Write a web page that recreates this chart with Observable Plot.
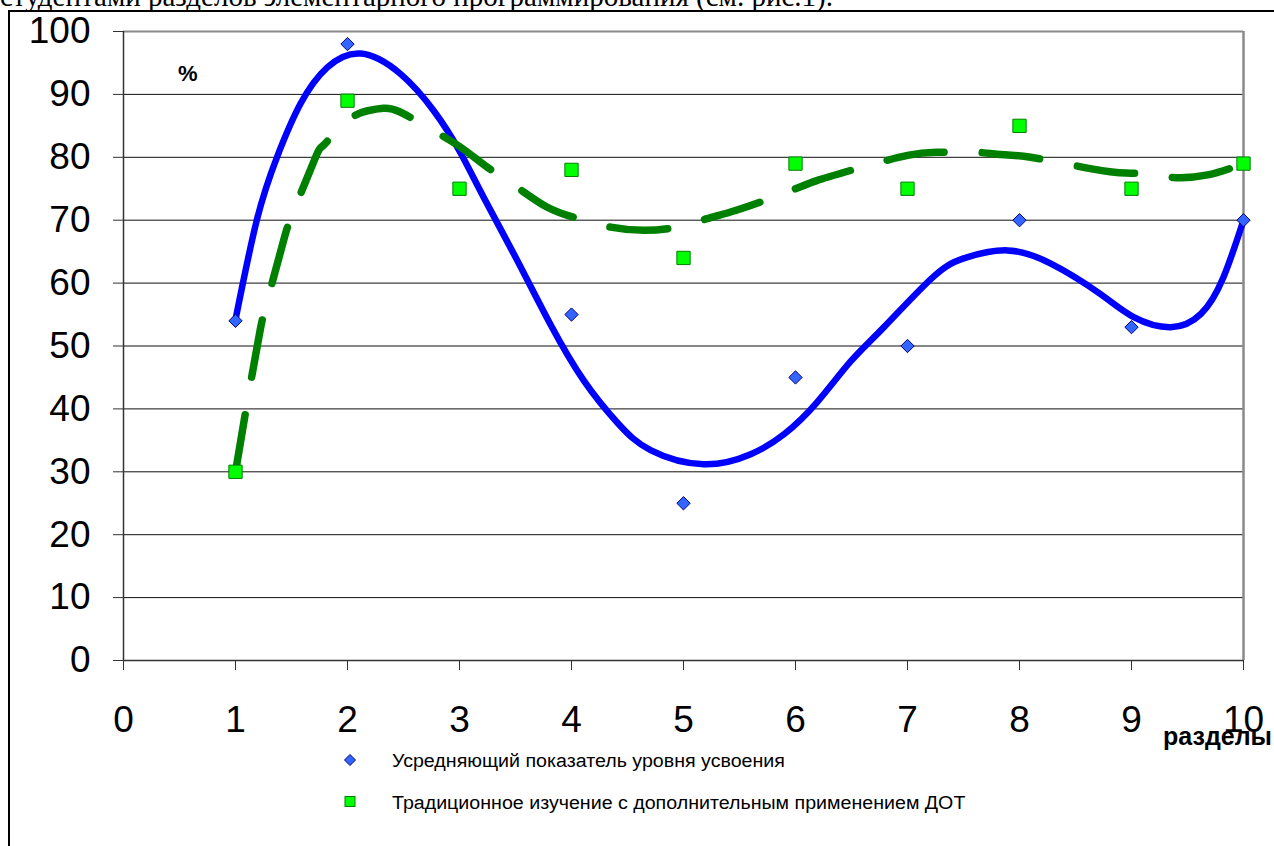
<!DOCTYPE html>
<html>
<head>
<meta charset="utf-8">
<script src="https://cdn.jsdelivr.net/npm/d3@7"></script>
<script src="https://cdn.jsdelivr.net/npm/@observablehq/plot@0.6"></script>
<style>
  html, body { margin: 0; padding: 0; background: #fff; }
  #wrap { position: relative; width: 1274px; height: 846px; overflow: hidden; font-family: 'Liberation Sans', Arial, sans-serif; }
  #frame { position: absolute; left: 8px; top: 10px; width: 1300px; height: 900px; border-left: 2px solid #000; border-top: 2px solid #000; }
  #toptext { position: absolute; left: 0px; top: -18px; font-family: 'Liberation Serif', 'Times New Roman', serif; font-size: 29px; line-height: 1; white-space: nowrap; color: #000; }
  #chart { position: absolute; left: 0; top: 0; }
  .lbl { position: absolute; line-height: 1; white-space: nowrap; color: #000; }
  .leg { position: absolute; line-height: 1; white-space: nowrap; font-size: 18px; color: #000; transform: scaleX(1.09); transform-origin: 0 0; }
</style>
</head>
<body>
<div id="wrap">
  <div id="frame"></div>
  <div id="toptext">студентами разделов элементарного программирования (см. рис.1).</div>
  <div id="chart"></div>
  <div class="lbl" style="left:178px; top:63px; font-size:22px; font-weight:bold;">%</div>
  <div class="lbl" style="left:1163px; top:724px; font-size:25px; font-weight:bold;">разделы</div>
  <svg style="position:absolute; left:340px; top:750px;" width="22" height="62">
    <path d="M10,4.5 L15.5,10 L10,15.5 L4.5,10 Z" fill="#3366FF" stroke="#000080" stroke-width="1"/>
    <rect x="5" y="46.5" width="10" height="10" fill="#00FF00" stroke="#008000" stroke-width="1"/>
  </svg>
  <div class="leg" id="leg1" style="left:392px; top:752px;">Усредняющий показатель уровня усвоения</div>
  <div class="leg" id="leg2" style="left:392px; top:794px;">Традиционное изучение с дополнительным применением ДОТ</div>
</div>
<script>
// ---- data ----
const razdely = [1, 2, 3, 4, 5, 6, 7, 8, 9, 10];
const usrednyayushchiy = [54, 98, null, 55, 25, 45, 50, 70, 53, 70];
const traditsionnoe = [30, 89, 75, 78, 64, 79, 75, 85, 75, 79];

// trend lines
const trendBlueX = [1.0, 1.19, 1.37, 1.58, 1.82, 2.12, 2.47, 2.77, 3.0, 3.22, 3.51, 3.81, 4.11, 4.41, 4.71, 5.18, 5.6, 5.9, 6.19, 6.49, 6.79, 7.23, 7.53, 7.89, 8.28, 8.72, 9.02, 9.35, 9.62, 9.82, 10.0];
const trendBlueY = [54.2, 70, 80, 88.5, 94.3, 96.5, 93.3, 87.4, 81, 73.5, 63.8, 53.5, 44.5, 37.8, 33.4, 31.2, 32.8, 36, 41, 47.5, 53, 61, 64.1, 65.2, 63.1, 58.3, 54.6, 53, 55.1, 60.9, 70];
const trendGreenX = [1.0, 1.09, 1.22, 1.30, 1.43, 1.52, 1.71, 1.79, 2.0, 2.18, 2.32, 2.47, 2.75, 3.01, 3.25, 3.5, 3.78, 4.05, 4.35, 4.65, 4.94, 5.2, 5.42, 5.69, 6.0, 6.19, 6.49, 7.0, 7.29, 7.55, 7.8, 8.1, 8.57, 8.87, 9.15, 9.37, 9.68, 10.0];
const trendGreenY = [30, 39.5, 52.5, 58.3, 66.8, 71.5, 79.8, 82, 85.8, 87.4, 87.8, 87.2, 84.4, 81.6, 78.4, 75.4, 72.1, 70.3, 68.9, 68.4, 68.9, 70.2, 71.3, 72.9, 75, 76.3, 77.9, 80.3, 80.8, 80.9, 80.5, 80, 78.4, 77.6, 77.3, 76.8, 77.2, 79];

const xTicks = [0, 1, 2, 3, 4, 5, 6, 7, 8, 9, 10];
const yTicks = [0, 10, 20, 30, 40, 50, 60, 70, 80, 90, 100];
const gridY = [10, 20, 30, 40, 50, 60, 70, 80, 90];

// ---- tables ----
const pointsBlue = razdely.map((x, i) => ({x, y: usrednyayushchiy[i]})).filter(d => d.y != null);
const pointsGreen = razdely.map((x, i) => ({x, y: traditsionnoe[i]}));
const lineBlue = trendBlueX.map((x, i) => ({x, y: trendBlueY[i]}));
const lineGreen = trendGreenX.map((x, i) => ({x, y: trendGreenY[i]}));

const chart = Plot.plot({
  width: 1274,
  height: 846,
  marginLeft: 123,
  marginRight: 31,
  marginTop: 31,
  marginBottom: 186,
  style: {fontFamily: "'Liberation Sans', Arial, sans-serif", background: "transparent", color: "#000", overflow: "visible"},
  x: {domain: [0, 10]},
  y: {domain: [0, 100]},
  marks: [
    Plot.ruleY(gridY, {stroke: "#111", strokeWidth: 1}),
    Plot.ruleY([100], {stroke: "#8a8a8a", strokeWidth: 2}),
    Plot.ruleX([10], {stroke: "#8a8a8a", strokeWidth: 2.5}),
    Plot.axisY({ticks: yTicks, tickSize: 10, tickPadding: 23, fontSize: 37, label: null, stroke: "#333"}),
    Plot.axisX({ticks: xTicks, tickSize: 10, tickPadding: 35, fontSize: 37, label: null, stroke: "#333"}),
    Plot.ruleX([0], {stroke: "#333", strokeWidth: 1.5}),
    Plot.ruleY([0], {stroke: "#333", strokeWidth: 1.5}),
    Plot.line(lineBlue, {x: "x", y: "y", curve: "natural", stroke: "#0000FF", strokeWidth: 6.5}),
    Plot.line(lineGreen, {x: "x", y: "y", curve: "natural", stroke: "#008000", strokeWidth: 7.5, strokeDasharray: "58,38", strokeLinecap: "round"}),
    Plot.dot(pointsBlue, {x: "x", y: "y", symbol: "diamond2", r: 6, fill: "#3366FF", stroke: "#000080", strokeWidth: 1}),
    Plot.dot(pointsGreen, {x: "x", y: "y", symbol: "square", r: 7.5, fill: "#00FF00", stroke: "#008000", strokeWidth: 1})
  ]
});
document.getElementById("chart").appendChild(chart);
</script>
</body>
</html>
